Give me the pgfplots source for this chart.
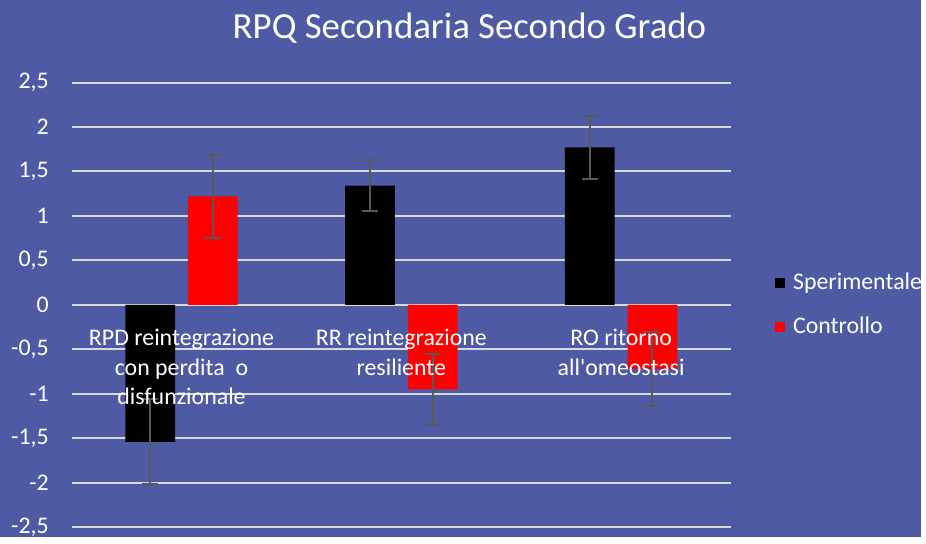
\documentclass[border=0pt]{standalone}
\usepackage{pgfplots}
\pgfplotsset{compat=1.18}
\usepackage{fontspec}
\setmainfont{Carlito}[Ligatures=TeXOff]
\definecolor{bg}{RGB}{79,90,165}
\definecolor{gridc}{RGB}{217,217,217}
\definecolor{errc}{RGB}{89,89,89}
\definecolor{redbar}{RGB}{255,0,0}
\pgfplotsset{
  common/.style={
    at={(36pt,5pt)}, anchor=south west,
    scale only axis, width=331.5pt, height=223.5pt,
    xmin=-0.5, xmax=2.5, ymin=-2.5, ymax=2.5,
    major tick length=0pt,
    clip=false,
  },
}
\begin{document}
\begin{tikzpicture}
\fill[bg] (0,0) rectangle (463pt,270pt);
\node[font=\fontsize{18.5}{22}\selectfont, text=white] at (236pt,256pt) {RPQ Secondaria Secondo Grado};
\begin{axis}[
  common,
  axis x line=middle, axis y line=left,
  axis line style={draw=none},
  hide obscured y ticks=false,
  ytick={-2.5,-2,-1.5,-1,-0.5,0,0.5,1,1.5,2,2.5},
  ymajorgrids,
  grid style={color=gridc, line width=1pt},
  /pgf/number format/assume math mode=true,
  /pgf/number format/use comma,
  /pgf/number format/1000 sep={},
  yticklabel style={font=\fontsize{12}{14}\selectfont, text=white, anchor=east, xshift=-8pt},
  xtick=\empty,
  legend style={at={(1,0.5)}, anchor=west, xshift=22pt, draw=none, fill=none, text=white,
    font=\fontsize{12}{14}\selectfont, inner sep=0pt, row sep=8pt, legend cell align=left},
]
\addplot[ybar, fill=black, draw=none, bar width=25pt, bar shift=-15.75pt,
  legend image code/.code={\fill[black] (0pt,-2.5pt) rectangle (5pt,2.5pt); \path (7pt,0pt);},
  error bars/.cd, y dir=both, y explicit,
  error bar style={line width=1pt, color=errc, xshift=-15.75pt},
  error mark options={rotate=90, mark size=4pt, line width=1pt, color=errc}]
  coordinates {(0,-1.54) +- (0,0.48) (1,1.34) +- (0,0.29) (2,1.77) +- (0,0.35)};
\addplot[ybar, fill=redbar, draw=none, bar width=25pt, bar shift=15.75pt,
  legend image code/.code={\fill[redbar] (0pt,-2.5pt) rectangle (5pt,2.5pt); \path (7pt,0pt);},
  error bars/.cd, y dir=both, y explicit,
  error bar style={line width=1pt, color=errc, xshift=15.75pt},
  error mark options={rotate=90, mark size=4pt, line width=1pt, color=errc}]
  coordinates {(0,1.22) +- (0,0.47) (1,-0.95) +- (0,0.40) (2,-0.72) +- (0,0.42)};
\legend{Sperimentale, Controllo}
\end{axis}
% second axis: category labels on top of the bars
\begin{axis}[
  common,
  axis x line=middle, axis y line=none,
  axis line style={draw=none},
  ytick=\empty,
  xtick={0,1,2},
  xticklabels={{RPD reintegrazione\\con perdita\ \ o\\disfunzionale},{RR reintegrazione\\resiliente},{RO ritorno\\all'omeostasi}},
  xticklabel style={font=\fontsize{12}{15}\selectfont, text=white, align=center, anchor=north, yshift=-8.5pt},
]
\end{axis}
\end{tikzpicture}
\end{document}
